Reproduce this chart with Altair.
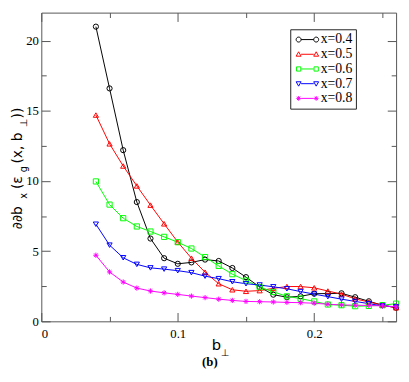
import altair as alt
import pandas as pd

# ---------------- data ----------------
b_perp = [0.04, 0.05, 0.06, 0.07, 0.08, 0.09, 0.10, 0.11, 0.12, 0.13, 0.14, 0.15,
          0.16, 0.17, 0.18, 0.19, 0.20, 0.21, 0.22, 0.23, 0.24, 0.25, 0.26]
series_names = ["x=0.4", "x=0.5", "x=0.6", "x=0.7", "x=0.8"]
v_x04 = [21.0, 16.6, 12.2, 8.5, 5.9, 4.5, 4.1, 4.2, 4.4, 4.3, 3.8, 3.15,
         2.45, 1.9, 1.72, 1.78, 1.97, 1.98, 2.0, 1.72, 1.43, 1.15, 0.97]
v_x05 = [14.7, 12.65, 11.07, 9.65, 8.28, 6.95, 5.65, 4.5, 3.5, 2.68, 2.25, 2.14,
         2.19, 2.35, 2.48, 2.48, 2.39, 2.16, 1.94, 1.6, 1.38, 1.15, 0.97]
v_x06 = [9.97, 8.32, 7.35, 6.76, 6.4, 6.02, 5.64, 5.19, 4.58, 3.95, 3.36, 2.91,
         2.44, 2.1, 1.78, 1.62, 1.42, 1.2, 1.15, 1.08, 1.1, 1.15, 1.26]
v_x07 = [6.92, 5.43, 4.53, 4.06, 3.81, 3.72, 3.61, 3.47, 3.22, 3.04, 2.82, 2.68,
         2.59, 2.46, 2.32, 2.12, 1.94, 1.76, 1.58, 1.42, 1.26, 1.1, 1.04]
v_x08 = [4.71, 3.52, 2.8, 2.37, 2.16, 2.03, 1.92, 1.8, 1.69, 1.58, 1.49, 1.42,
         1.4, 1.38, 1.35, 1.33, 1.29, 1.22, 1.17, 1.15, 1.13, 1.1, 1.04]
x_major = [0, 0.1, 0.2]
x_minor = [0.05, 0.15, 0.25]
y_major = [0, 5, 10, 15, 20]
y_minor = [2.5, 7.5, 12.5, 17.5]
series_colors = ["#000000", "#ff0000", "#00ff00", "#0000ff", "#ff00ff"]

rows = []
for name, vals in zip(series_names, [v_x04, v_x05, v_x06, v_x07, v_x08]):
    for b, v in zip(b_perp, vals):
        rows.append({"series": name, "b": b, "v": v})
df = pd.DataFrame(rows)

# ---------------- styling helpers ----------------
W, H = 362, 315
SERIF = "Liberation Serif"
SANS = "DejaVu Sans"
AXC = "#555555"

xs = alt.Scale(domain=[0, 0.26], nice=False, zero=False)
ys = alt.Scale(domain=[0, 22], nice=False)

asterisk = "M-1,0L1,0M0,-1L0,1M-0.7,-0.7L0.7,0.7M-0.7,0.7L0.7,-0.7"
data_shapes = ["circle", "triangle-up", "square", "triangle-down", asterisk]

# legend symbol: a short line with a marker at each end (units: 1 = 7px)
def legend_path(kind):
    c, r = 1.28, 0.36
    parts = [f"M{-c + r:.2f},0L{c - r:.2f},0"]
    for cx in (-c, c):
        if kind == "circle":
            parts.append(f"M{cx + r:.2f},0A{r},{r} 0 1 1 {cx - r:.2f},0A{r},{r} 0 1 1 {cx + r:.2f},0Z")
        elif kind == "up":
            parts.append(f"M{cx:.2f},{-r:.2f}L{cx - r:.2f},0.28L{cx + r:.2f},0.28Z")
        elif kind == "square":
            parts.append(f"M{cx - 0.31:.2f},-0.31L{cx + 0.31:.2f},-0.31L{cx + 0.31:.2f},0.31L{cx - 0.31:.2f},0.31Z")
        elif kind == "down":
            parts.append(f"M{cx:.2f},{r:.2f}L{cx - r:.2f},-0.28L{cx + r:.2f},-0.28Z")
        else:
            d, e = 0.34, 0.24
            parts.append(f"M{cx - d:.2f},0L{cx + d:.2f},0M{cx:.2f},{-d}L{cx:.2f},{d}"
                         f"M{cx - e:.2f},{-e}L{cx + e:.2f},{e}M{cx - e:.2f},{e}L{cx + e:.2f},{-e}")
    return "".join(parts)


legend_shapes = [legend_path(k) for k in ["circle", "up", "square", "down", "star"]]

color_enc = alt.Color("series:N", scale=alt.Scale(domain=series_names, range=series_colors), legend=None)


def tick_axis(orient, values, size):
    return alt.Axis(orient=orient, values=values, labels=False, domain=False, grid=False,
                    title=None, ticks=True, tickSize={"expr": str(-size)}, tickColor=AXC, tickWidth=1)


def axis_layer(xaxis, yaxis):
    return alt.Chart(df).mark_point(opacity=0).encode(
        x=alt.X("b:Q", scale=xs, axis=xaxis),
        y=alt.Y("v:Q", scale=ys, axis=yaxis),
    )


lines = alt.Chart(df).mark_line(strokeWidth=1).encode(
    x=alt.X("b:Q", scale=xs, axis=alt.Axis(orient="bottom", values=x_major, format="~g", ticks=False,
                                             domain=False, grid=False, title=None, labelFont=SERIF,
                                             labelFontSize=13, labelColor="black", labelPadding=6)),
    y=alt.Y("v:Q", scale=ys, axis=alt.Axis(orient="left", values=y_major, format="~g", ticks=False,
                                             domain=False, grid=False, title=None, labelFont=SERIF,
                                             labelFontSize=13, labelColor="black", labelPadding=3)),
    color=color_enc,
    detail="series:N",
)

points = alt.Chart(df).mark_point(filled=False, size=28, strokeWidth=1, opacity=1).encode(
    x=alt.X("b:Q", scale=xs, axis=None),
    y=alt.Y("v:Q", scale=ys, axis=None),
    color=color_enc,
    shape=alt.Shape("series:N", scale=alt.Scale(domain=series_names, range=data_shapes), legend=None),
)

legend_layer = alt.Chart(df).transform_filter("false").mark_point(filled=False, opacity=1).encode(
    color=alt.Color("series:N", scale=alt.Scale(domain=series_names, range=series_colors),
                    legend=alt.Legend(orient="none", legendX=254, legendY=17, title=None,
                                      strokeColor="#222222", fillColor="white", padding=3,
                                      labelFont=SERIF, labelFontSize=14, labelColor="black",
                                      symbolSize=196, symbolStrokeWidth=1, symbolOffset=7,
                                      labelOffset=6, rowPadding={"expr": "-2"})),
    shape=alt.Shape("series:N", scale=alt.Scale(domain=series_names, range=legend_shapes)),
)

ax_major_bl = axis_layer(tick_axis("bottom", x_major, 9), tick_axis("left", y_major, 9))
ax_minor_bl = axis_layer(tick_axis("bottom", x_minor, 5), tick_axis("left", y_minor, 5))
ax_major_tr = axis_layer(tick_axis("top", x_major, 9), tick_axis("right", y_major, 9))
ax_minor_tr = axis_layer(tick_axis("top", x_minor, 5), tick_axis("right", y_minor, 5))

one = pd.DataFrame({"k": [0]})


def label(text, x, y, size, font=SANS, angle=0, weight="normal", align="left"):
    kw = dict(text=text, font=font, fontSize=size, fontWeight=weight, align=align,
              baseline="alphabetic", color="black")
    if angle:
        kw["angle"] = angle
    return alt.Chart(one).mark_text(**kw).encode(x=alt.value(x), y=alt.value(y))


# y-axis title pieces (rotated, reading upward)
MX, SX = -20, -15
ytitle = [
    label("∂∂b", MX, 221, 14, angle=270),
    label("x", SX, 190, 10, angle=270),
    label("(ε", MX, 180, 14, angle=270),
    label("g", SX, 163, 10, angle=270),
    label("(x, b", MX, 154, 14, angle=270),
    label("⊥", SX, 117, 10, angle=270),
    label("))", MX, 108, 14, angle=270),
]
xtitle = [
    label("b", 174, 344, 15),
    label("⊥", 183, 350, 10),
    label("(b)", 172, 361, 13, font=SERIF, weight="bold", align="center"),
]

chart = alt.layer(
    lines, points, ax_major_bl, ax_minor_bl, ax_major_tr, ax_minor_tr, legend_layer,
    *ytitle, *xtitle,
).resolve_scale(color="independent", shape="independent").resolve_axis(
    x="independent", y="independent"
).properties(
    width=W, height=H, padding={"left": 3, "top": 0, "right": 0, "bottom": 0}
).configure_view(stroke=AXC, strokeWidth=1).configure_axis(
    labelFont=SERIF, labelFontSize=13, labelColor="black"
)

chart.save("out.html", embed_options={"renderer": "svg", "actions": False})
